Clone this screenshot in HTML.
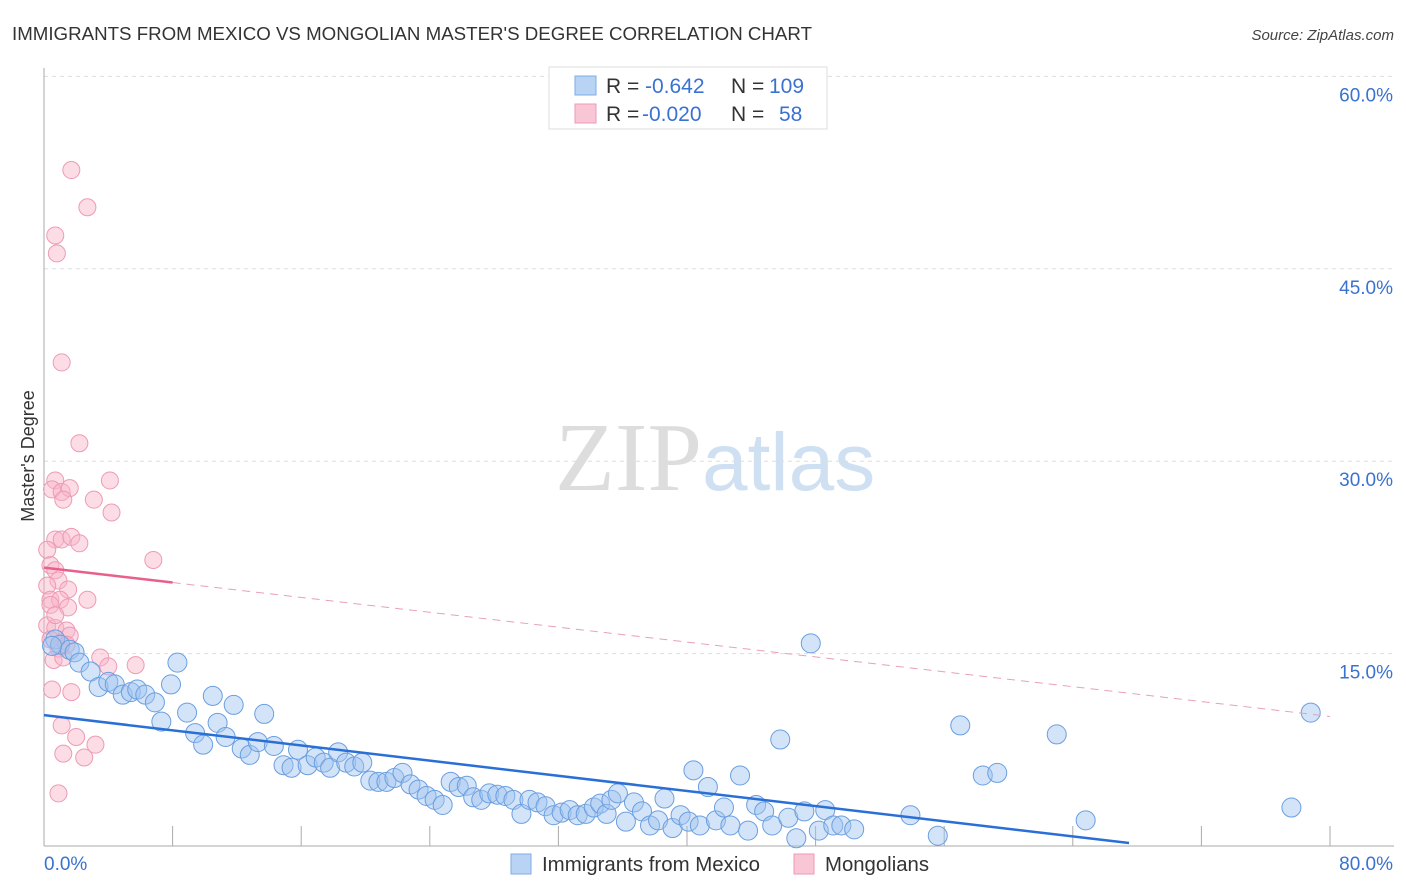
<!DOCTYPE html>
<html><head><meta charset="utf-8"><style>
body{margin:0;background:#fff;font-family:"Liberation Sans",sans-serif;}
svg{display:block}
</style></head><body>
<svg id="chart" width="1406" height="892" xmlns="http://www.w3.org/2000/svg">
<text x="12" y="40" font-size="18" fill="#333" textLength="800" lengthAdjust="spacingAndGlyphs">IMMIGRANTS FROM MEXICO VS MONGOLIAN MASTER'S DEGREE CORRELATION CHART</text>
<text x="1394" y="40" font-size="15" fill="#444" text-anchor="end" font-style="italic">Source: ZipAtlas.com</text>
<text x="555" y="490" font-size="98" fill="#ddd" font-family="Liberation Serif">ZIP<tspan fill="#cfe0f3" font-family="Liberation Sans" font-size="82">atlas</tspan></text>
<g id="grid"></g>
<g id="axes"></g>
<g id="marks"></g>
<g id="legend-top">
<rect x="549" y="67" width="278" height="62" fill="#fff" stroke="#ddd"/>
<rect x="575" y="76" width="21" height="19" fill="#b9d3f4" stroke="#7eaee8"/>
<rect x="575" y="104" width="21" height="19" fill="#f9c6d6" stroke="#ee9ab5"/>
<text x="606" y="93" font-size="21" fill="#333">R = <tspan fill="#3a72d0" x="645">-0.642</tspan><tspan x="731">N = </tspan><tspan fill="#3a72d0" x="769">109</tspan></text>
<text x="606" y="121" font-size="21" fill="#333">R = <tspan fill="#3a72d0" x="642">-0.020</tspan><tspan x="731">N = </tspan><tspan fill="#3a72d0" x="779">58</tspan></text>
</g>
<g>
<rect x="511" y="854" width="20" height="20" fill="#b9d3f4" stroke="#7eaee8"/>
<text x="542" y="871" font-size="20" fill="#333" textLength="218" lengthAdjust="spacingAndGlyphs">Immigrants from Mexico</text>
<rect x="794" y="854" width="20" height="20" fill="#f9c6d6" stroke="#ee9ab5"/>
<text x="825" y="871" font-size="20" fill="#333" textLength="104" lengthAdjust="spacingAndGlyphs">Mongolians</text>
</g>
<text transform="translate(34,456) rotate(-90)" font-size="18" fill="#333" text-anchor="middle">Master's Degree</text>
</svg>
<script>
const yTicks=[15,30,45,60];
const yTickLabels=["15.0%","30.0%","45.0%","60.0%"];
const xTickLabels=["0.0%","80.0%"];
const mexX=[0.7,1.0,1.6,1.9,2.2,2.9,3.4,4.0,4.4,4.9,5.4,5.8,6.3,6.9,7.3,7.9,8.3,8.9,9.4,9.9,10.5,10.8,11.3,11.8,12.3,12.8,13.3,13.7,14.3,14.9,15.4,15.8,16.4,16.9,17.4,17.8,18.3,18.8,19.3,19.8,20.3,20.8,21.3,21.8,22.3,22.8,23.3,23.8,24.3,24.8,25.3,25.8,26.3,26.7,27.2,27.7,28.2,28.7,29.2,29.7,30.2,30.7,31.2,31.7,32.2,32.7,33.2,33.7,34.2,34.6,35.0,35.3,35.7,36.2,36.7,37.2,37.7,38.2,38.6,39.1,39.6,40.1,40.4,40.8,41.3,41.8,42.3,42.7,43.3,43.8,44.3,44.8,45.3,45.8,46.3,46.8,47.3,47.7,48.2,48.6,49.1,49.6,50.4,53.9,55.6,57.0,58.4,59.3,63.0,64.8,77.6,78.8,0.5];
const mexY=[16.1,15.7,15.3,15.1,14.3,13.6,12.4,12.8,12.6,11.8,12.0,12.2,11.8,11.2,9.7,12.6,14.3,10.4,8.8,7.9,11.7,9.6,8.5,11.0,7.6,7.1,8.1,10.3,7.8,6.3,6.1,7.5,6.3,6.9,6.5,6.1,7.3,6.5,6.2,6.5,5.1,5.0,5.0,5.3,5.7,4.8,4.4,3.9,3.6,3.2,5.0,4.6,4.7,3.8,3.6,4.1,4.0,3.9,3.6,2.5,3.6,3.4,3.1,2.4,2.6,2.8,2.4,2.5,3.0,3.3,2.5,3.6,4.1,1.9,3.4,2.7,1.6,2.0,3.7,1.4,2.4,1.9,5.9,1.6,4.6,2.0,3.0,1.6,5.5,1.2,3.2,2.7,1.6,8.3,2.2,0.6,2.7,15.8,1.2,2.8,1.6,1.6,1.3,2.4,0.8,9.4,5.5,5.7,8.7,2.0,3.0,10.4,15.6];
const monX=[1.7,2.7,0.7,0.8,1.1,2.2,0.7,0.5,1.1,1.6,1.2,3.1,4.1,4.2,0.7,1.1,1.7,2.2,0.2,0.4,0.7,0.9,0.2,1.5,0.4,1.0,1.5,2.7,6.8,0.2,0.7,1.4,1.6,0.9,0.6,1.2,3.5,4.0,5.7,0.5,1.7,1.1,2.0,3.2,2.5,1.2,0.9,0.4,0.4,0.7,1.4];
const monY=[52.7,49.8,47.6,46.2,37.7,31.4,28.5,27.8,27.6,27.9,27.0,27.0,28.5,26.0,23.9,23.9,24.1,23.6,23.1,21.9,21.5,20.7,20.3,20.0,19.2,19.2,18.6,19.2,22.3,17.2,17.0,16.8,16.4,15.4,14.5,14.7,14.7,14.0,14.1,12.2,12.0,9.4,8.5,7.9,6.9,7.2,4.1,18.8,16.1,18.0,15.7];
const mexTrend=[10.2,0.23,67.5];
const monTrend=[21.7,10.1,8];
const X0=44,X1=1330,Y0=846,Ypx=769.6/60;
const sx=v=>X0+v/80*(X1-X0), sy=v=>Y0-v*Ypx;
const NS="http://www.w3.org/2000/svg";
function mk(tag,attrs,parent){const e=document.createElementNS(NS,tag);for(const k in attrs)e.setAttribute(k,attrs[k]);document.getElementById(parent).appendChild(e);return e;}
yTicks.forEach((t,i)=>{
 const l=mk('line',{x1:X0,x2:1394,y1:sy(t),y2:sy(t),stroke:'#ddd','stroke-dasharray':'4,4'},'grid');
 
 
 const tx=mk('text',{x:1393,y:sy(t)+25,'font-size':19,fill:'#3a72d0','text-anchor':'end'},'grid');
 tx.textContent=yTickLabels[i];
 
 
});
const ax=mk('line',{x1:X0,x2:X0,y1:68,y2:Y0,stroke:'#aaa'},'axes');


const bx=mk('line',{x1:X0,x2:1394,y1:Y0,y2:Y0,stroke:'#aaa'},'axes');


for(let i=1;i<=10;i++){const t=mk('line',{x1:sx(i*8),x2:sx(i*8),y1:Y0-20,y2:Y0,stroke:'#aaa'},'axes');
 
 }
[[0,'start',44],[80,'end',1393]].forEach((d,i)=>{const t=mk('text',{x:d[2],y:870,'font-size':19,fill:'#3a72d0','text-anchor':d[1]},'axes');t.textContent=xTickLabels[i];
 
 });
monX.forEach((x,i)=>{const c=mk('circle',{cx:sx(x),cy:sy(monY[i]),r:8.5,fill:'rgba(248,180,200,0.45)',stroke:'#ee9ab5','stroke-width':1},'marks');
 
 });
mexX.forEach((x,i)=>{const c=mk('circle',{cx:sx(x),cy:sy(mexY[i]),r:9.5,fill:'rgba(160,196,240,0.45)',stroke:'#6a9fe0','stroke-width':1},'marks');
 
 });
const mt=mk('line',{x1:sx(0),y1:sy(mexTrend[0]),x2:sx(mexTrend[2]),y2:sy(mexTrend[1]),stroke:'#2a6fd6','stroke-width':2.5},'marks');


const slope=(monTrend[1]-monTrend[0])/80;
const ms=monTrend[2];
const p1=mk('line',{x1:sx(0),y1:sy(monTrend[0]),x2:sx(ms),y2:sy(monTrend[0]+slope*ms),stroke:'#e8608a','stroke-width':2.5},'marks');


const p2=mk('line',{x1:sx(ms),y1:sy(monTrend[0]+slope*ms),x2:sx(80),y2:sy(monTrend[1]),stroke:'#e8a0b8','stroke-width':1,'stroke-dasharray':'8,6'},'marks');


</script>
</body></html>
